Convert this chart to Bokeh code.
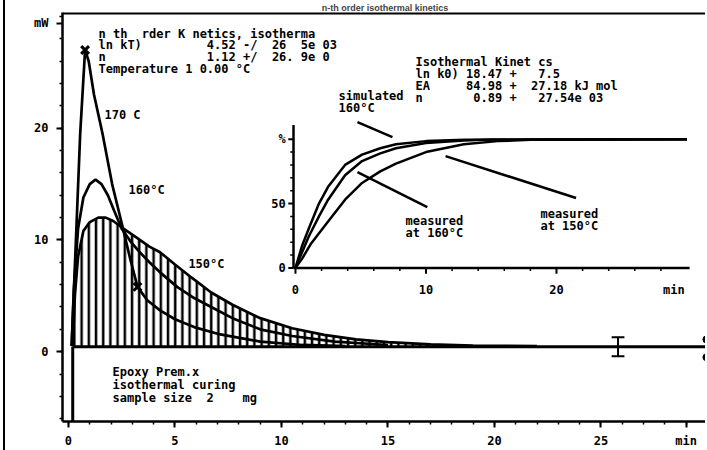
from bokeh.plotting import figure
from bokeh.models import Range1d, FixedTicker, Span
from bokeh.core.properties import value
from bokeh.embed import file_html
from bokeh.resources import INLINE

FONT = "DejaVu Sans Mono"
NB = "\u00a0"

# ---- main DSC curves (time in min, heat flow in mW) ----
t170 = [0.15, 0.35, 0.55, 0.78, 0.95, 1.2, 1.6, 2.05, 2.5, 2.9, 3.24, 3.7, 4.3, 5.0, 5.9, 7.0, 9.0, 11.0, 13.0]
v170 = [0.5, 10.0, 19.5, 27.0, 26.0, 23.0, 19.5, 15.0, 11.5, 8.3, 5.8, 4.6, 3.7, 2.9, 2.2, 1.6, 0.9, 0.6, 0.5]

t160 = [0.15, 0.25, 0.45, 0.7, 1.0, 1.27, 1.55, 1.85, 2.15, 2.5, 2.9, 3.3, 3.8, 4.3, 5.1, 5.9, 6.7, 7.7, 9.0, 10.5, 12.5, 15.0]
v160 = [0.5, 5.5, 11.0, 13.8, 15.0, 15.4, 15.0, 14.0, 12.6, 11.0, 9.9, 9.0, 8.0, 7.1, 5.8, 4.8, 4.0, 3.0, 2.0, 1.4, 0.9, 0.6]

t150 = [0.2, 0.3, 0.45, 0.7, 1.0, 1.4, 1.75, 2.1, 2.6, 3.2, 3.8, 4.3, 5.0, 5.8, 6.7, 7.7, 9.0, 10.5, 12.0, 13.5, 15.0, 17.0, 19.0, 22.0]
v150 = [0.5, 5.0, 8.5, 10.8, 11.6, 12.0, 12.0, 11.7, 11.0, 10.2, 9.4, 8.9, 7.8, 6.6, 5.3, 4.2, 3.0, 2.1, 1.5, 1.1, 0.85, 0.65, 0.55, 0.5]

baseline_t = [0.2, 30.0]
baseline_v = [0.45, 0.45]

x_marks_t = [0.78, 3.24]
x_marks_v = [27.0, 5.8]

# ---- inset: conversion (%) vs time (min) ----
ts = [0, 0.5, 1.0, 1.8, 2.5, 3.8, 5.1, 6.5, 7.7, 10.0, 13.0, 30.0]
cs = [0, 17, 30, 50, 63, 80, 88, 93, 96, 98.5, 99.5, 100]
tm160 = [0, 0.5, 1.0, 1.8, 2.5, 3.8, 5.1, 6.5, 7.7, 10.0, 12.9, 15.0, 30.0]
cm160 = [0, 12, 24, 40, 53, 72, 83, 89, 93, 97, 99, 99.7, 100]
tm150 = [0, 0.5, 1.2, 2.5, 3.8, 5.1, 6.5, 7.7, 10.0, 12.9, 15.5, 18.0, 30.0]
cm150 = [0, 7, 19, 36, 53, 66, 75, 81, 90, 96, 98.5, 99.5, 100]

main_xticks = [0, 5, 10, 15, 20, 25]
main_yticks = [0, 10, 20]
inset_xticks = [0, 10, 20]
inset_xlabels = ["0", "10", "20"]
inset_yticks = [0, 50, 100]
inset_ylabels = ["0", "50", "%"]

title_text = "n-th order isothermal kinetics"

p = figure(width=702, height=450, output_backend="svg", toolbar_location=None,
           x_range=Range1d(-0.28, 30.0), y_range=Range1d(-6.25, 30.36),
           min_border_left=57, min_border_right=0, min_border_top=12, min_border_bottom=28,
           styles={"border-left": "2px solid black", "margin-left": "3px"})
p.extra_x_ranges = {"ix": Range1d(-17.85, 31.57)}
p.extra_y_ranges = {"iy": Range1d(-119.38, 198.45)}
p.grid.visible = False
p.outline_line_color = None
p.background_fill_color = "white"
p.border_fill_color = "white"

p.title.text = title_text
p.title.text_font = "Liberation Sans"
p.title.text_font_style = "bold"
p.title.text_font_size = "9px"
p.title.align = "center"
p.title.offset = 16
p.title.standoff = 0

for ax in (p.xaxis[0], p.yaxis[0]):
    ax.axis_line_width = 2.5
    ax.major_tick_line_width = 2
    ax.minor_tick_line_width = 1.5
    ax.major_tick_out = 6
    ax.major_tick_in = 0
    ax.minor_tick_out = 3
    ax.minor_tick_in = 0
    ax.major_label_text_font = FONT
    ax.major_label_text_font_style = "bold"
    ax.major_label_text_font_size = "12px"
    ax.major_label_text_color = "black"
p.xaxis.ticker = FixedTicker(ticks=main_xticks + [29], minor_ticks=list(range(0, 31)))
p.xaxis.major_label_overrides = {29: "min"}
p.yaxis.ticker = FixedTicker(ticks=main_yticks + [29.4], minor_ticks=list(range(-6, 31, 2)))
p.yaxis.major_label_overrides = {29.4: "mW"}
p.xaxis.major_label_standoff = 6
p.yaxis.major_label_standoff = 8

# top frame line
p.add_layout(Span(location=30.3, dimension="width", line_color="black", line_width=2.5))

# hatched area under 150 C curve
p.varea(x=t150, y1=0.45, y2=v150, fill_color=None, fill_alpha=0,
        hatch_pattern="|", hatch_color="black", hatch_weight=2.5, hatch_scale=7.2)

# start-of-measurement line
p.segment(x0=[0.2], y0=[0.45], x1=[0.2], y1=[-7.0], line_color="black", line_width=3)
p.line(baseline_t, baseline_v, line_color="black", line_width=3)

for tt, vv in ((t170, v170), (t160, v160), (t150, v150)):
    p.line(tt, vv, line_color="black", line_width=2.7)

p.scatter(x_marks_t, x_marks_v, marker="x", size=11, line_width=3, line_color="black")

# "I" marker and end marker on the baseline
p.segment(x0=[25.8], y0=[-0.4], x1=[25.8], y1=[1.3], line_color="black", line_width=2)
p.segment(x0=[25.5, 25.5], y0=[-0.4, 1.3], x1=[26.1, 26.1], y1=[-0.4, 1.3], line_color="black", line_width=2)
p.scatter([29.95, 29.95], [1.1, -0.5], size=7, color="black")


def txt(x, y, s, rx=None, ry=None, align="left", size="12px"):
    kw = {}
    if rx:
        kw["x_range_name"] = rx
        kw["y_range_name"] = ry
    p.text(x=x, y=y, text=[t.replace(" ", NB) for t in s], text_font=value(FONT),
           text_font_style="bold", text_font_size=size, text_color="black",
           text_baseline="middle", text_align=align, **kw)


left_lines = ["n th  rder K netics, isotherma",
              "ln kT)         4.52 -/  26  5e 03",
              "n              1.12 +/  26. 9e 0",
              "Temperature 1 0.00 \u00b0C"]
txt([1.41] * 4, [28.48, 27.41, 26.34, 25.27], left_lines)

right_lines = ["Isothermal Kinet cs",
               "ln k0) 18.47 +   7.5",
               "EA     84.98 +  27.18 kJ mol",
               "n       0.89 +   27.54e 03"]
txt([16.29] * 4, [25.89, 24.82, 23.75, 22.68], right_lines)

txt([1.69, 2.82, 5.63], [21.16, 14.46, 7.86], ["170 C", "160\u00b0C", "150\u00b0C"])
txt([2.07] * 3, [-1.79, -2.95, -4.11], ["Epoxy Prem.x", "isothermal curing", "sample size  2    mg"])

# ---- inset drawn with the extra ranges ----
for tt, cc in ((ts, cs), (tm160, cm160), (tm150, cm150)):
    p.line(tt, cc, line_color="black", line_width=2.5, x_range_name="ix", y_range_name="iy")
p.line([-0.15, -0.15], [0, 111], line_color="black", line_width=2.5, x_range_name="ix", y_range_name="iy")
p.line([-0.15, 30.2], [0, 0], line_color="black", line_width=2.5, x_range_name="ix", y_range_name="iy")
p.segment(x0=[-0.15] * 3, y0=inset_yticks, x1=[-0.55] * 3, y1=inset_yticks,
          line_color="black", line_width=2, x_range_name="ix", y_range_name="iy")
yminor = [10, 20, 30, 40, 60, 70, 80, 90]
p.segment(x0=[-0.15] * len(yminor), y0=yminor, x1=[-0.4] * len(yminor), y1=yminor,
          line_color="black", line_width=1.5, x_range_name="ix", y_range_name="iy")
p.segment(x0=inset_xticks, y0=[0] * 3, x1=inset_xticks, y1=[-4.5] * 3,
          line_color="black", line_width=2, x_range_name="ix", y_range_name="iy")
xminor = [2, 4, 6, 8, 12, 14, 16, 18, 22, 24, 26, 28]
p.segment(x0=xminor, y0=[0] * len(xminor), x1=xminor, y1=[-2.5] * len(xminor),
          line_color="black", line_width=1.5, x_range_name="ix", y_range_name="iy")
txt([-0.75] * 3, inset_yticks, inset_ylabels, "ix", "iy", align="right")
txt(inset_xticks + [29.0], [-17] * 4, inset_xlabels + ["min"], "ix", "iy", align="center")

txt([3.3, 3.3], [133.3, 124.0], ["simulated", "160\u00b0C"], "ix", "iy")
txt([8.43, 8.43], [36.4, 27.1], ["measured", "at 160\u00b0C"], "ix", "iy")
txt([18.77, 18.77], [41.9, 32.6], ["measured", "at 150\u00b0C"], "ix", "iy")
p.segment(x0=[4.75, 4.75, 11.5], y0=[113.2, 74.4, 86.8], x1=[7.43, 10.1, 21.5], y1=[101.6, 47.3, 54.3],
          line_color="black", line_width=2.5, x_range_name="ix", y_range_name="iy")

open("out.html", "w").write(file_html(p, INLINE))
